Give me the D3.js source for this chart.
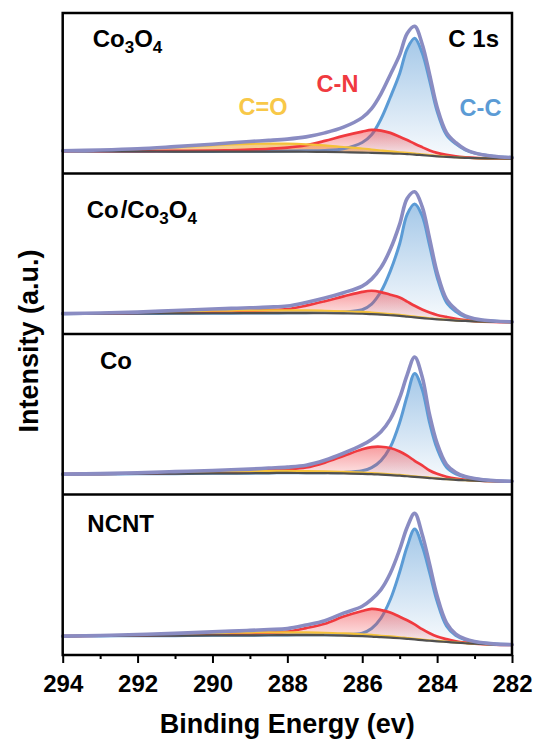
<!DOCTYPE html>
<html>
<head>
<meta charset="utf-8">
<script src="https://cdn.jsdelivr.net/npm/d3@7"></script>
<style>
  html, body { margin: 0; padding: 0; background: #ffffff; }
  svg { display: block; }
  text { font-family: Arial, "Liberation Sans", Helvetica, sans-serif; font-weight: bold; }
</style>
</head>
<body>
<svg id="chart" width="537" height="745"></svg>
<script>
// Binding energy grid (eV), high to low
const energy = [294, 293, 292, 291, 290, 289.5, 289, 288.5, 288, 287.5, 287, 286.5, 286, 285.75,
                285.5, 285.25, 285, 284.8, 284.6, 284.4, 284.2, 284, 283.75, 283.5, 283.25, 283, 282.5, 282];

// Co3O4: Shirley background and fitted components (intensity above background, a.u.)
const co3o4Background = [22.4, 22.2, 22.0, 21.9, 21.8, 21.8, 21.8, 21.8, 21.8, 21.7, 21.5, 21.2, 20.9, 20.6,
                         20.3, 20.0, 19.7, 19.3, 18.9, 18.3, 17.7, 17.1, 16.5, 16.0, 15.6, 15.3, 15.0, 14.9];
const co3o4CC = [0, 0, 0, 0.1, 0.2, 0.3, 0.3, 0.4, 0.6, 0.9, 1.5, 3.5, 10, 18,
                 34, 56, 80, 105, 116, 102, 75, 45, 22, 13.5, 8, 5, 2.2, 1];
const co3o4CN = [0, 0.2, 0.3, 0.6, 1.0, 1.4, 2.0, 2.8, 4.0, 6.5, 11.0, 16.3, 20.8, 22.8,
                 22.5, 20.5, 17.0, 14.0, 10.8, 8.0, 5.3, 3.5, 2.0, 1.0, 0.5, 0.2, 0, 0];
const co3o4CO = [0.3, 1.0, 2.3, 4.2, 6.2, 7.2, 7.8, 8.0, 7.9, 7.4, 6.5, 5.2, 4.0, 3.3,
                 2.6, 2.0, 1.5, 1.2, 1.0, 0.8, 0.6, 0.45, 0.3, 0.2, 0.1, 0.05, 0, 0];

// Co/Co3O4
const coCo3o4Background = [20.3, 20.4, 20.5, 20.6, 20.7, 20.7, 20.8, 20.8, 20.8, 20.8, 20.7, 20.5, 20.2, 19.8,
                           19.3, 18.7, 18.0, 17.3, 16.6, 15.9, 15.2, 14.6, 14.0, 13.4, 13.0, 12.6, 12.1, 11.8];
const coCo3o4CC = [0, 0, 0, 0, 0.1, 0.1, 0.1, 0.2, 0.3, 0.5, 0.7, 1.5, 4, 10,
                   23, 44, 72, 102, 113, 102, 73, 42, 17.5, 9, 4, 2.2, 0.8, 0.3];
const coCo3o4CN = [0, 0.2, 0.5, 1.0, 1.6, 2.0, 2.4, 3.0, 4.0, 7.5, 12.0, 17.0, 21.8, 23.3,
                   22.5, 20.5, 18.5, 15.0, 11.5, 8.5, 6.2, 4.4, 3.0, 1.8, 0.8, 0.3, 0, 0];
const coCo3o4CO = [0, 0.3, 0.8, 1.8, 2.5, 2.7, 2.8, 2.8, 2.8, 2.7, 2.5, 2.2, 1.8, 1.6,
                   1.4, 1.2, 1.0, 0.8, 0.7, 0.6, 0.5, 0.4, 0.3, 0.2, 0.15, 0.1, 0, 0];

// Co
const coBackground = [20.3, 20.4, 20.6, 20.8, 21.0, 21.1, 21.2, 21.4, 21.5, 21.4, 21.3, 21.0, 20.6, 20.3,
                      19.8, 19.3, 18.8, 18.2, 17.6, 17.0, 16.4, 15.8, 15.2, 14.6, 14.2, 13.8, 13.2, 13.0];
const coCC = [0, 0, 0, 0, 0.1, 0.1, 0.1, 0.15, 0.2, 0.35, 0.5, 1.0, 3, 6.5,
              14, 28, 53, 80, 103, 88, 55, 30, 12, 6, 3.2, 1.8, 0.6, 0.2];
const coCN = [0, 0.2, 0.4, 0.7, 1.1, 1.5, 2.0, 2.8, 3.6, 5.5, 10.5, 17.5, 24.5, 27.0,
              27.8, 27.0, 24.0, 20.5, 16.0, 12.0, 7.5, 4.8, 2.5, 1.2, 0.5, 0.2, 0, 0];
const coCO = [0, 0.2, 0.6, 1.3, 1.8, 1.9, 2.0, 2.0, 2.0, 1.9, 1.8, 1.6, 1.3, 1.1,
              1.0, 0.85, 0.7, 0.6, 0.5, 0.4, 0.35, 0.3, 0.2, 0.15, 0.1, 0.1, 0, 0];

// NCNT
const ncntBackground = [18.8, 19.0, 19.2, 19.3, 19.5, 19.6, 19.6, 19.7, 19.8, 19.8, 19.7, 19.3, 18.8, 18.4,
                        17.8, 17.3, 16.7, 16.1, 15.5, 14.8, 14.2, 13.6, 13.0, 12.3, 11.7, 11.2, 10.4, 10.0];
const ncntCC = [0, 0, 0, 0, 0.1, 0.1, 0.1, 0.15, 0.2, 0.35, 0.5, 1.2, 3, 8,
                19, 38, 66, 92, 110, 94, 68, 40, 16, 7, 3.5, 2, 0.7, 0.3];
const ncntCN = [0, 0.2, 0.4, 0.7, 1.1, 1.5, 2.0, 2.7, 3.5, 7.0, 11.5, 19.0, 25.0, 27.5,
                27.0, 25.0, 21.5, 18.5, 15.0, 11.0, 7.5, 4.8, 2.8, 1.4, 0.6, 0.2, 0, 0];
const ncntCO = [0, 0.3, 0.8, 1.6, 2.4, 2.6, 2.8, 2.8, 2.8, 2.7, 2.5, 2.2, 1.8, 1.6,
                1.4, 1.2, 1.0, 0.8, 0.7, 0.6, 0.5, 0.4, 0.3, 0.2, 0.15, 0.1, 0, 0];

// Axis ticks
const majorTicks = [294, 292, 290, 288, 286, 284, 282];
const minorTicks = [293, 291, 289, 287, 285, 283];

// Sample names, top to bottom
const sampleNames = ["Co3O4", "Co/Co3O4", "Co", "NCNT"];

const samples = [
  { bkg: co3o4Background, cc: co3o4CC, cn: co3o4CN, co: co3o4CO },
  { bkg: coCo3o4Background, cc: coCo3o4CC, cn: coCo3o4CN, co: coCo3o4CO },
  { bkg: coBackground, cc: coCC, cn: coCN, co: coCO },
  { bkg: ncntBackground, cc: ncntCC, cn: ncntCN, co: ncntCO }
];

const colors = {
  envelope: "#8a8cc2",
  cc: "#5b9bd5",
  cn: "#f03a3f",
  co: "#f4c23a",
  bkg: "#505050"
};

const svg = d3.select("#chart");
const L = 62.7, R = 512, T = 13, B = 655;
const panelH = (B - T) / 4;

const x = d3.scaleLinear().domain([294, 282]).range([L, R]);
const curve = d3.curveCatmullRom.alpha(0.5);

// Vertical gradients for the component fills
const defs = svg.append("defs");
function gradient(id, color, o0, o1) {
  const g = defs.append("linearGradient").attr("id", id)
    .attr("x1", 0).attr("y1", 0).attr("x2", 0).attr("y2", 1);
  g.append("stop").attr("offset", 0).attr("stop-color", color).attr("stop-opacity", o0);
  g.append("stop").attr("offset", 1).attr("stop-color", color).attr("stop-opacity", o1);
}
gradient("gradCC", colors.cc, 0.55, 0.04);
gradient("gradCN", colors.cn, 0.5, 0.04);
gradient("gradCO", "#f0a838", 0.6, 0.45);

svg.append("rect").attr("x", L).attr("y", T).attr("width", R - L).attr("height", B - T).attr("fill", "#ffffff");

samples.forEach((s, i) => {
  const y = d3.scaleLinear().domain([0, 160]).range([T + (i + 1) * panelH, T + i * panelH]);
  const rows = energy.map((e, k) => ({
    e: e,
    b: s.bkg[k],
    cc: s.bkg[k] + s.cc[k],
    cn: s.bkg[k] + s.cn[k],
    co: s.bkg[k] + s.co[k],
    env: s.bkg[k] + s.cc[k] + s.cn[k] + s.co[k]
  }));
  const g = svg.append("g").attr("class", "panel");
  const area = key => d3.area().x(d => x(d.e)).y0(d => y(d.b)).y1(d => y(d[key])).curve(curve);
  const line = key => d3.line().x(d => x(d.e)).y(d => y(d[key])).curve(curve);
  const stroke = (key, color, w) => g.append("path").datum(rows).attr("d", line(key))
    .attr("fill", "none").attr("stroke", color).attr("stroke-width", w)
    .attr("stroke-linejoin", "round").attr("stroke-linecap", "round");

  g.append("path").datum(rows).attr("d", area("co")).attr("fill", "url(#gradCO)");
  g.append("path").datum(rows).attr("d", area("cc")).attr("fill", "url(#gradCC)");
  stroke("cc", colors.cc, 3);
  g.append("path").datum(rows).attr("d", area("cn")).attr("fill", "url(#gradCN)");
  stroke("cn", colors.cn, 2.7);
  stroke("co", colors.co, 2.2);
  stroke("b", colors.bkg, 2.2);
  stroke("env", colors.envelope, 3.6);
});

// Frame and panel dividers
svg.append("rect").attr("x", L).attr("y", T).attr("width", R - L).attr("height", B - T)
  .attr("fill", "none").attr("stroke", "#000").attr("stroke-width", 2.5);
for (let i = 1; i < 4; i++) {
  svg.append("line").attr("x1", L).attr("x2", R)
    .attr("y1", T + i * panelH).attr("y2", T + i * panelH)
    .attr("stroke", "#000").attr("stroke-width", 2.5);
}

// Bottom axis: major ticks with labels, minor ticks without
const axisMajor = svg.append("g").attr("transform", `translate(0,${B})`)
  .call(d3.axisBottom(x).tickValues(majorTicks).tickSize(8).tickSizeOuter(0).tickPadding(11.5).tickFormat(d3.format("d")));
const axisMinor = svg.append("g").attr("transform", `translate(0,${B})`)
  .call(d3.axisBottom(x).tickValues(minorTicks).tickSize(4).tickSizeOuter(0).tickFormat(""));
[axisMajor, axisMinor].forEach(a => {
  a.select(".domain").remove();
  a.selectAll(".tick line").attr("stroke", "#000").attr("stroke-width", 2);
});
axisMajor.selectAll(".tick text")
  .attr("fill", "#000").style("font-size", "24px").style("font-weight", "bold")
  .style("font-family", "Arial, 'Liberation Sans', sans-serif");

// Axis titles
svg.append("text").attr("x", (L + R) / 2).attr("y", 733.3).attr("text-anchor", "middle")
  .attr("font-size", 27).attr("fill", "#000").text("Binding Energy (ev)");
svg.append("text").attr("transform", "translate(38,341) rotate(-90)").attr("text-anchor", "middle")
  .attr("font-size", 27).attr("fill", "#000").text("Intensity (a.u.)");

// Sample labels with subscripted formulas
const labelPlacement = [
  { x: 92.7, y: 46.7 },
  { x: 86.7, y: 218.3 },
  { x: 100, y: 369 },
  { x: 87.3, y: 531.7 }
];
sampleNames.forEach((name, i) => {
  const t = svg.append("text").attr("x", labelPlacement[i].x).attr("y", labelPlacement[i].y)
    .attr("font-size", 24).attr("fill", "#000");
  const parts = name.split(/(\d|\/)/).filter(p => p.length);
  let lowered = false;
  parts.forEach(p => {
    const isDigit = /^\d$/.test(p);
    const ts = t.append("tspan").text(p);
    if (isDigit) { ts.attr("font-size", 17).attr("dy", lowered ? 0 : 6); lowered = true; }
    else {
      ts.attr("font-size", 24).attr("dy", lowered ? -6 : 0);
      if (p === "/") ts.attr("dx", 2);
      lowered = false;
    }
  });
});

// Core level and component labels
svg.append("text").attr("x", 499).attr("y", 46.7).attr("text-anchor", "end")
  .attr("font-size", 24).attr("fill", "#000").text("C 1s");
svg.append("text").attr("x", 337.5).attr("y", 91.7).attr("text-anchor", "middle")
  .attr("font-size", 23.5).attr("fill", colors.cn).text("C-N");
svg.append("text").attr("x", 263).attr("y", 115).attr("text-anchor", "middle")
  .attr("font-size", 23.5).attr("fill", "#f8c848").text("C=O");
svg.append("text").attr("x", 480.5).attr("y", 115.5).attr("text-anchor", "middle")
  .attr("font-size", 23.5).attr("fill", colors.cc).text("C-C");
</script>
</body>
</html>
